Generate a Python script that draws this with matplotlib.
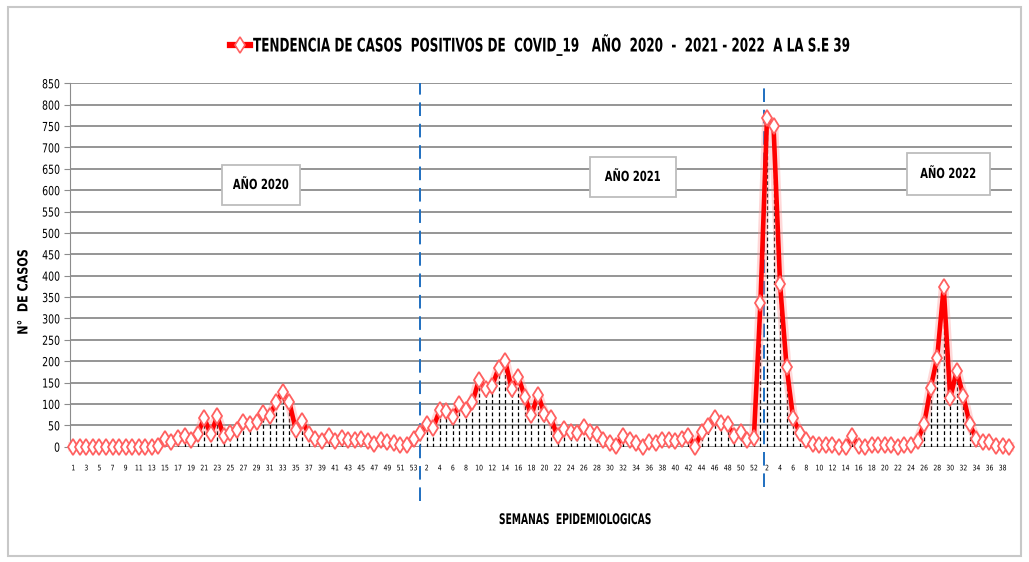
import numpy as np
import matplotlib
matplotlib.use('Agg')
import matplotlib.pyplot as plt
from matplotlib.patches import Rectangle
from matplotlib.lines import Line2D
from matplotlib.patheffects import AbstractPathEffect
from matplotlib.transforms import Affine2D

# ----------------------------------------------------------------------------------------------------------------------

casos_2020 = [0, 0, 0, 0, 0, 0, 0, 0, 0, 0, 0, 0, 0, 1, 17, 10, 21, 25, 16, 29, 67, 29, 71, 25, 33, 40,
              58, 52, 58, 78, 71, 105, 128, 105, 40, 60, 29, 18, 14, 25, 14, 21, 15, 15, 18, 14, 6, 15,
              10, 8, 3, 4, 18]
casos_2021 = [31, 52, 44, 86, 83, 70, 99, 87, 104, 157, 135, 142, 184, 200, 135, 163, 117, 73, 122, 77,
              66, 24, 41, 34, 33, 45, 34, 30, 15, 9, 2, 25, 15, 8, 0, 10, 8, 15, 15, 13, 17, 26, 0, 34,
              48, 66, 55, 52, 25, 35, 16, 21]
casos_2022 = [336, 768, 749, 380, 186, 67, 33, 15, 6, 5, 5, 5, 0, 0, 25, 1, 0, 4, 4, 4, 4, 0, 4, 4, 14,
              52, 137, 208, 373, 114, 178, 118, 52, 18, 12, 10, 2, 1, 0]

semanas_2020 = list(range(1, 54))
semanas_2021 = list(range(1, 53))
semanas_2022 = list(range(1, 40))

titulo = 'TENDENCIA DE CASOS  POSITIVOS DE  COVID_19   AÑO  2020  -  2021 - 2022  A LA S.E 39'
etiquetas_anio = ['AÑO 2020', 'AÑO 2021', 'AÑO 2022']

# ----------------------------------------------------------------------------------------------------------------------

class Narrow(AbstractPathEffect):
    # squeeze text horizontally (or vertically for rotated text) to look like a condensed font
    def __init__(self, s=0.7, anchor='center', vertical=False):
        super().__init__()
        self.s, self.anchor, self.vertical = s, anchor, vertical

    def draw_path(self, renderer, gc, tpath, affine, rgbFace=None):
        ext = tpath.get_extents(affine)
        if self.vertical:
            c = (ext.y0 + ext.y1) / 2
            t = Affine2D().translate(0, -c).scale(1, self.s).translate(0, c)
        else:
            c = {'center': (ext.x0 + ext.x1) / 2, 'right': ext.x1, 'left': ext.x0}[self.anchor]
            t = Affine2D().translate(-c, 0).scale(self.s, 1).translate(c, 0)
        renderer.draw_path(gc, tpath, affine + t, rgbFace)


W, H = 1029, 562

y = np.array(casos_2020 + casos_2021 + casos_2022)
semanas = semanas_2020 + semanas_2021 + semanas_2022
x = np.arange(len(y))

fig = plt.figure(figsize=(W / 100, H / 100), dpi=100)
ax = fig.add_axes([70 / W, 1 - 446.7 / H, 942.4 / W, 363.4 / H])

# outer frame
fig.patches.append(Rectangle((8 / W, 6 / H), 1013 / W, 549 / H, transform=fig.transFigure,
                             fill=False, edgecolor='#c8c8c8', lw=1.5))

ax.set_xlim(-0.5, len(y) - 0.5)
ax.set_ylim(0, 850)
ax.set_yticks(np.arange(0, 851, 50))
ax.grid(axis='y', color='#8c8c8c', lw=1.3)
ax.set_axisbelow(True)
for s in ['top', 'right', 'bottom']:
    ax.spines[s].set_visible(False)
ax.spines['left'].set_color('#8c8c8c')
ax.tick_params(axis='y', length=4, color='#8c8c8c', labelsize=9, pad=3)
ax.tick_params(axis='x', length=0, labelsize=5.5, pad=12)

# x tick labels
ticks, labels = [], []
for i, s in enumerate(semanas):
    if (i < 53 and s % 2 == 1) or (i >= 53 and s % 2 == 0):
        ticks.append(i)
        labels.append(str(s))
ax.set_xticks(ticks)
ax.set_xticklabels(labels)
for lb in ax.get_yticklabels():
    lb.set_path_effects([Narrow(0.75, 'right')])
for lb in ax.get_xticklabels():
    lb.set_path_effects([Narrow(0.8)])

# drop lines
ax.vlines(x, 0, y, colors='black', linestyles=(0, (3, 2)), lw=0.9, zorder=2)

# separators between years
ax.axvline(53, ymin=-0.15, ymax=1.0, color='#1f6fc0', ls=(0, (7, 4)), lw=1.4, clip_on=False, zorder=3)
ax.axvline(105.6, ymin=-0.11, ymax=1.0, color='#1f6fc0', ls=(0, (7, 4)), lw=1.4, clip_on=False, zorder=3)

# line with glow
ax.plot(x, y, color='#ff9090', lw=7, alpha=0.35, zorder=4, clip_on=False)
ax.plot(x, y, color='#ff0000', lw=3.3, zorder=5, clip_on=False)
ax.plot(x, y, ls='none', marker='d', ms=8, mfc='white', mec='#ff6060', mew=1.3, zorder=6, clip_on=False)

ylab = ax.set_ylabel('N°  DE CASOS', fontsize=10, fontweight='bold')
ax.yaxis.set_label_coords(-0.042, 0.426)
ylab.set_path_effects([Narrow(0.8, vertical=True)])
xlab = ax.set_xlabel('SEMANAS  EPIDEMIOLOGICAS', fontsize=10.5, fontweight='bold')
ax.xaxis.set_label_coords((576 - 70) / 942.4, (446.7 - 512) / 363.4)
xlab.set_path_effects([Narrow(0.63)])

# year boxes
cajas = [(222, 165, 78, 40), (590, 157, 86, 40), (907, 153, 83, 42)]
for txt, (bx, by, bw, bh) in zip(etiquetas_anio, cajas):
    fig.patches.append(Rectangle((bx / W, 1 - (by + bh) / H), bw / W, bh / H, transform=fig.transFigure,
                                 fc='white', ec='#bdbdbd', lw=1.3, zorder=5))
    t = fig.text((bx + bw / 2) / W, 1 - (by + bh / 2) / H, txt, ha='center', va='center',
                 fontsize=10, fontweight='bold', zorder=6)
    t.set_path_effects([Narrow(0.72)])

# title with legend marker
t = fig.text(551 / W, 1 - 45 / H, titulo, ha='center', va='center', fontsize=13.5, fontweight='bold')
t.set_path_effects([Narrow(0.64)])
fig.add_artist(Line2D([230 / W, 250 / W], [1 - 45 / H] * 2, color='#ff0000', lw=4.5))
fig.add_artist(Line2D([240 / W], [1 - 45 / H], marker='d', ms=8, mfc='white', mec='#ff6060', mew=1.2))

fig.savefig('out.png', dpi=100)
print('Main done.')
